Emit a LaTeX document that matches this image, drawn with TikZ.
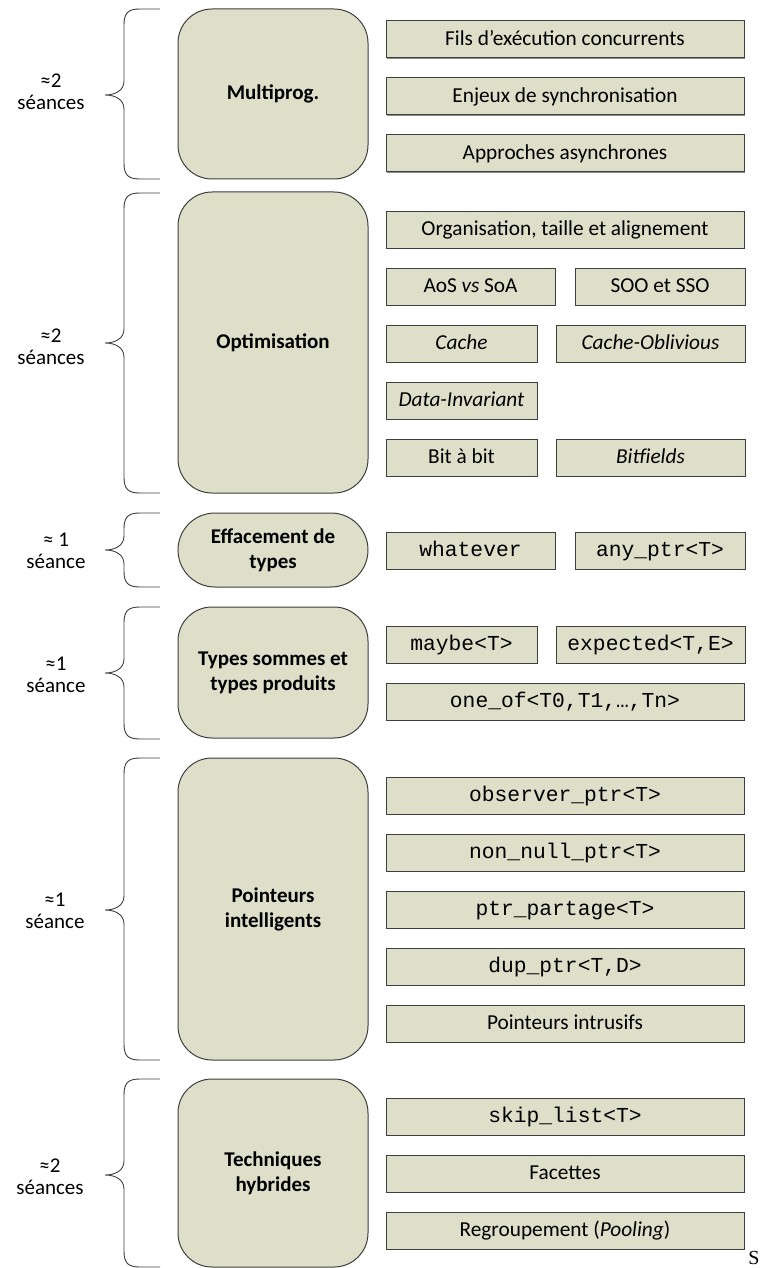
\documentclass[tikz,border=0pt]{standalone}
\usepackage{fontspec}
\setmainfont{Carlito}
\setmonofont{Liberation Mono}
\newfontfamily\serifS{Liberation Serif}
\usepackage{xcolor}
\usetikzlibrary{positioning,shadows}
\definecolor{boxfill}{HTML}{DDDFC9}
\definecolor{boxline}{HTML}{3F3F3F}

\begin{document}
\begin{tikzpicture}[x=1pt, y=-1pt, node distance=19pt,
	theme/.style={draw=boxline, fill=boxfill, line width=1pt, rounded corners=34pt, minimum width=190pt, inner sep=0pt, align=center, font=\fontsize{21}{25}\selectfont\bfseries},
	topic/.style={draw=boxline, fill=boxfill, line width=1pt, minimum height=37pt, inner sep=0pt, text height=16.5pt, text depth=4pt, font=\fontsize{21.3}{25}\selectfont,
		general shadow={shadow xshift=1.1pt, shadow yshift=-1.1pt, fill=black!45}},
	wide/.style={topic, minimum width=358pt},
	pairl/.style={topic, minimum width=169pt},
	pairr/.style={topic, minimum width=170pt},
	narrow/.style={topic, minimum width=151pt},
	broad/.style={topic, minimum width=189pt},
	sessions/.style={align=center, font=\fontsize{21}{22}\selectfont}]
		\useasboundingbox (0,0) rectangle (762,1268);

		% accolades
		\foreach \t/\m/\b in {9/95/179, 193/343/493, 513/550/587, 607/673/739, 758/910/1060, 1079/1175/1267}
			\draw[boxline, line width=0.9pt] (160,\t) -- (140,\t) .. controls (128,\t) and (124,\t+4) .. (124,\t+16)
				-- (124,\m-14) .. controls (124,\m-5) and (116,\m) .. (105,\m)
				.. controls (116,\m) and (124,\m+5) .. (124,\m+14)
				-- (124,\b-16) .. controls (124,\b-4) and (128,\b) .. (140,\b) -- (160,\b);

		\node[sessions] (smulti) at (51,92) {≈2\\séances};
		\node[sessions] (soptim) at (51,347) {≈2\\séances};
		\node[sessions] (seffac) at (56,551) {≈ 1\\séance};
		\node[sessions] (stypes) at (56,675) {≈1\\séance};
		\node[sessions] (spoint) at (55,911) {≈1\\séance};
		\node[sessions] (stechn) at (50,1177) {≈2\\séances};

		% themes
		\node[theme, minimum height=170pt] (multi) at (273,94) {Multiprog.};
		\node[theme, minimum height=301pt] (optim) at (273,342.5) {Optimisation};
		\node[theme, minimum height=74pt, rounded corners=37pt] (effac) at (273,550) {Effacement de\\types};
		\node[theme, minimum height=131pt] (types) at (273,672.5) {Types sommes et\\types produits};
		\node[theme, minimum height=302pt] (point) at (273,909) {Pointeurs\\intelligents};
		\node[theme, minimum height=188pt] (techn) at (273,1173) {Techniques\\hybrides};

		% Multiprog.
		\node[wide] (fils) at (565,39.5) {Fils d’exécution concurrents};
		\node[wide, below=of fils] (enjeux) {Enjeux de synchronisation};
		\node[wide, below=of enjeux] (async) {Approches asynchrones};

		% Optimisation
		\node[wide] (orga) at (565,229.5) {Organisation, taille et alignement};
		\node[pairl, below=of orga.south west, anchor=north west] (aos) {AoS \textit{vs} SoA};
		\node[pairr, right=of aos] (soo) {SOO et SSO};
		\node[narrow, below=of aos.south west, anchor=north west] (cache) {\textit{Cache}};
		\node[broad, right=18pt of cache] (oblivious) {\textit{Cache-Oblivious}};
		\node[narrow, below=of cache] (invariant) {\textit{Data-Invariant}};
		\node[narrow, below=of invariant] (bitabit) {Bit à bit};
		\node[broad, right=18pt of bitabit] (bitfields) {\textit{Bitfields}};

		% Effacement de types
		\node[pairl] (whatever) at (470.5,550.5) {\texttt{whatever}};
		\node[pairr, right=of whatever] (anyptr) {\texttt{any\_ptr<T>}};

		% Types sommes et types produits
		\node[narrow] (maybe) at (461.5,644.5) {\texttt{maybe<T>}};
		\node[broad, right=18pt of maybe] (expected) {\texttt{expected<T,E>}};
		\node[wide, below=of maybe.south west, anchor=north west] (oneof) {\texttt{one\_of<T0,T1,…,Tn>}};

		% Pointeurs intelligents
		\node[wide] (observer) at (565,795.5) {\texttt{observer\_ptr<T>}};
		\node[wide, below=of observer] (nonnull) {\texttt{non\_null\_ptr<T>}};
		\node[wide, below=of nonnull] (partage) {\texttt{ptr\_partage<T>}};
		\node[wide, below=of partage] (dup) {\texttt{dup\_ptr<T,D>}};
		\node[wide, below=of dup] (intrusifs) {Pointeurs intrusifs};

		% Techniques hybrides
		\node[wide] (skiplist) at (565,1116.5) {\texttt{skip\_list<T>}};
		\node[wide, below=of skiplist] (facettes) {Facettes};
		\node[wide, below=of facettes] (pooling) {Regroupement (\textit{Pooling})};

		\node[font=\serifS\fontsize{20}{20}\selectfont, inner sep=0pt] (s) at (754,1258) {S};
	\end{tikzpicture}
\end{document}
